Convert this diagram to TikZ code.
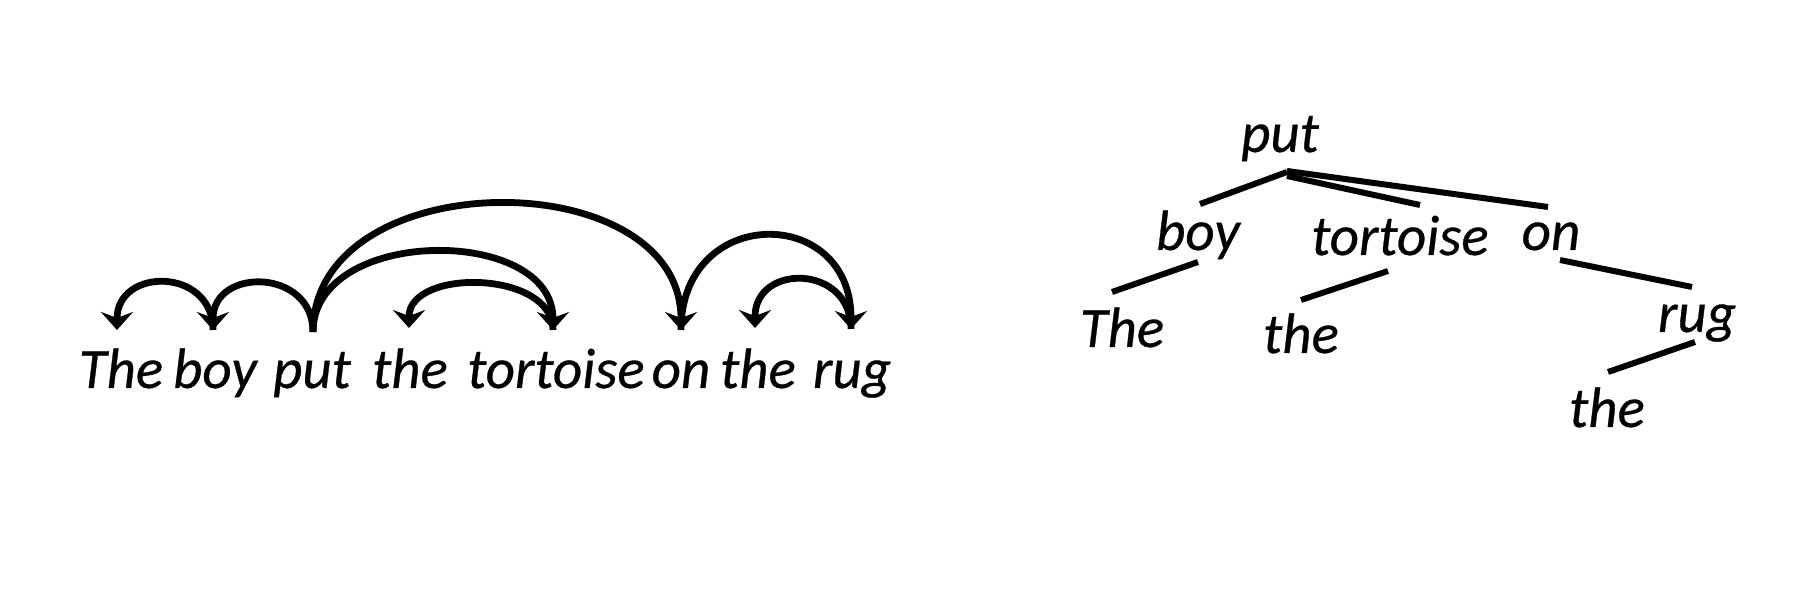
\documentclass[tikz,border=0pt]{standalone}
\usepackage{fontspec}
\setmainfont{Carlito}[ItalicFeatures={FakeBold=0.5}]
\usetikzlibrary{arrows.meta}
\begin{document}
\begin{tikzpicture}[x=0.5pt,y=-0.5pt,
  word/.style={anchor=base, inner sep=0pt, font=\fontsize{28.5}{30}\selectfont\itshape},
  dep/.style={line width=3.4pt, -{Stealth[length=9pt,width=16pt,inset=3pt]}},
  branch/.style={line width=3pt}]
\useasboundingbox (0,0) rectangle (1817,614);
% ---- left: sentence with dependency arcs ----
\node[word] (wThe)  at (121,388) {The};
\node[word] (wBoy)  at (215,388) {boy};
\node[word] (wPut)  at (312,388) {put};
\node[word] (wThe2) at (410,388) {the};
\node[word] (wTort) at (556,388) {tortoise};
\node[word] (wOn)   at (681,388) {on};
\node[word] (wThe3) at (758,388) {the};
\node[word] (wRug)  at (852,388) {rug};
\coordinate (aThe)  at (117,330);
\coordinate (aBoy)  at (213,330);
\coordinate (aPut)  at (313,332);
\coordinate (aThe2) at (409,328);
\coordinate (aTort) at (553,330);
\coordinate (aOn)   at (681,330);
\coordinate (aThe3) at (755,328);
\coordinate (aRug)  at (851,329);
\draw[dep] (aBoy) .. controls +(0,-63) and +(0,-63) .. (aThe);
\draw[dep] (aPut) .. controls +(0,-64) and +(0,-63) .. (aBoy);
\draw[dep] (aPut) .. controls +(0,-106) and +(0,-105) .. (aTort);
\draw[dep] (aTort) .. controls +(0,-60) and +(0,-60) .. (aThe2);
\draw[dep] (aPut) .. controls +(0,-170) and +(0,-169) .. (aOn);
\draw[dep] (aOn) .. controls +(0,-125) and +(0,-125) .. (aRug);
\draw[dep] (aRug) .. controls +(0,-65) and +(0,-65) .. (aThe3);
% ---- right: tree ----
\node[word] (tPut)  at (1280,152) {put};
\node[word] (tBoy)  at (1198,250) {boy};
\node[word] (tThe)  at (1122,347) {The};
\node[word] (tTort) at (1400,255) {tortoise};
\node[word] (tThe2) at (1301,353) {the};
\node[word] (tOn)   at (1551,250) {on};
\node[word] (tRug)  at (1697,332) {rug};
\node[word] (tThe3) at (1607,427) {the};
\coordinate (pA)  at (1287,172);
\coordinate (pB)  at (1200,204);
\coordinate (pA2) at (1287,176);
\coordinate (pT)  at (1420,205);
\coordinate (pA3) at (1287,171);
\coordinate (pO)  at (1548,207);
\coordinate (bA)  at (1198,262);
\coordinate (bB)  at (1112,292);
\coordinate (tA)  at (1388,271);
\coordinate (tB)  at (1301,300);
\coordinate (oA)  at (1560,260);
\coordinate (oB)  at (1692,287);
\coordinate (rA)  at (1695,342);
\coordinate (rB)  at (1608,372);
\draw[branch] (pA) -- (pB);
\draw[branch] (pA2) -- (pT);
\draw[branch] (pA3) -- (pO);
\draw[branch] (bA) -- (bB);
\draw[branch] (tA) -- (tB);
\draw[branch] (oA) -- (oB);
\draw[branch] (rA) -- (rB);
\end{tikzpicture}
\end{document}
